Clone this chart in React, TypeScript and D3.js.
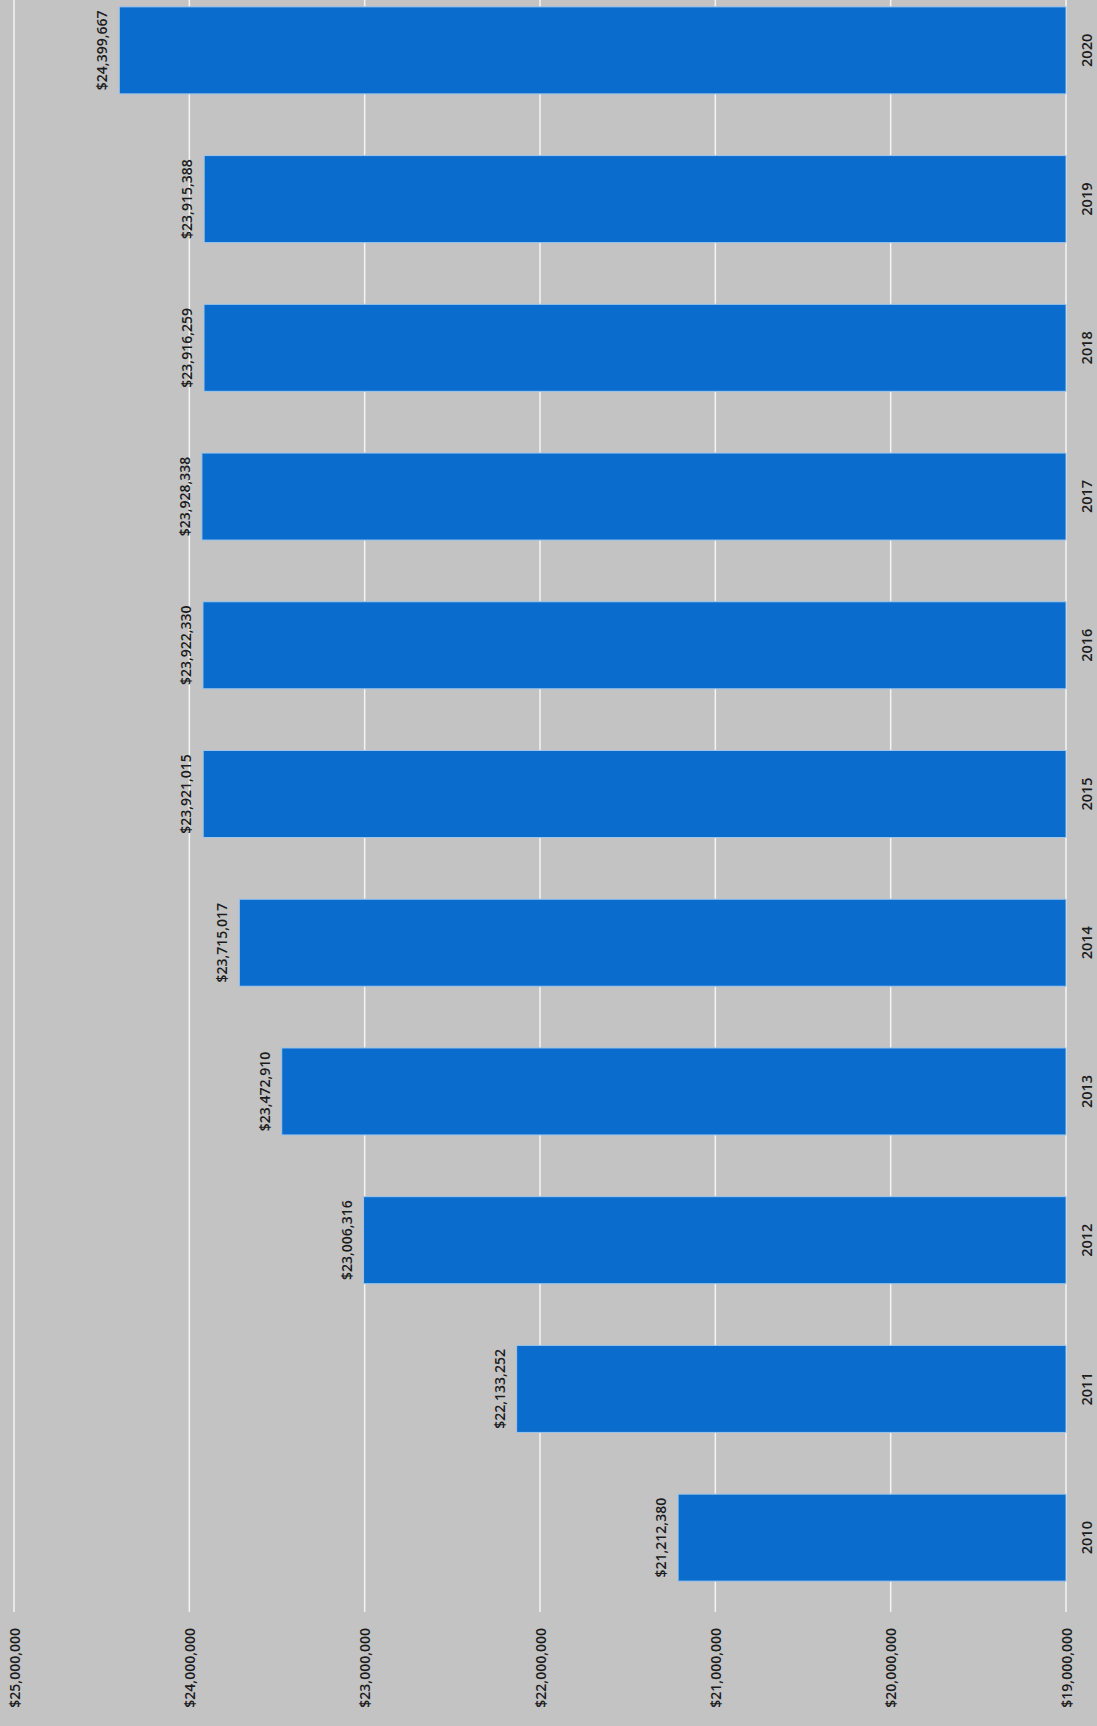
import React from "react";
import * as d3 from "d3";

const years = ["2010","2011","2012","2013","2014","2015","2016","2017","2018","2019","2020"];
const values = [21212380, 22133252, 23006316, 23472910, 23715017, 23921015, 23922330, 23928338, 23916259, 23915388, 24399667];
const ticks = [19000000, 20000000, 21000000, 22000000, 23000000, 24000000, 25000000];

const W = 1097, H = 1726;
const FONT = "'Open Sans', 'Liberation Sans', sans-serif";

export default function App() {
  const x = d3.scaleLinear().domain([19000000, 25000000]).range([1066, 14]);
  const y = d3.scaleBand<string>().domain([...years].reverse()).range([-24, 1612]).paddingInner(0.415).paddingOuter(0.2075);
  const fmt = (v: number) => "$" + d3.format(",")(v);
  return (
    <svg width={W} height={H} style={{ position: "absolute", left: 0, top: 0, background: "#c3c3c4" }}>
      <rect x={0} y={0} width={W} height={H} fill="#c3c3c4" />
      {ticks.map((t) => (
        <line key={"g" + t} x1={x(t)} x2={x(t)} y1={-24} y2={1612} stroke="#f4f4f4" strokeWidth={1.5} />
      ))}
      {years.map((yr, i) => {
        const y0 = y(yr)!;
        const bw = y.bandwidth();
        const x0 = x(values[i]);
        const xc = y0 + bw / 2;
        return (
          <g key={yr}>
            <rect x={x0} y={y0} width={x(19000000) - x0} height={bw} fill="#0a6ccd" stroke="#9fc6ea" strokeWidth={1} />
            <text transform={`translate(${x0 - 12},${xc}) rotate(-90)`} textAnchor="middle" fontFamily={FONT} fontSize={14} fontWeight={600} fill="#1c1c1c">
              {fmt(values[i])}
            </text>
            <text transform={`translate(${1086},${xc}) rotate(-90)`} textAnchor="middle" dominantBaseline="central" fontFamily={FONT} fontSize={14.5} fontWeight={600} fill="#1c1c1c">
              {yr}
            </text>
          </g>
        );
      })}
      {ticks.map((t) => (
        <text key={"t" + t} transform={`translate(${x(t)},1628) rotate(-90)`} textAnchor="end" dominantBaseline="central" fontFamily={FONT} fontSize={14} fontWeight={600} fill="#1c1c1c">
          {fmt(t)}
        </text>
      ))}
    </svg>
  );
}
